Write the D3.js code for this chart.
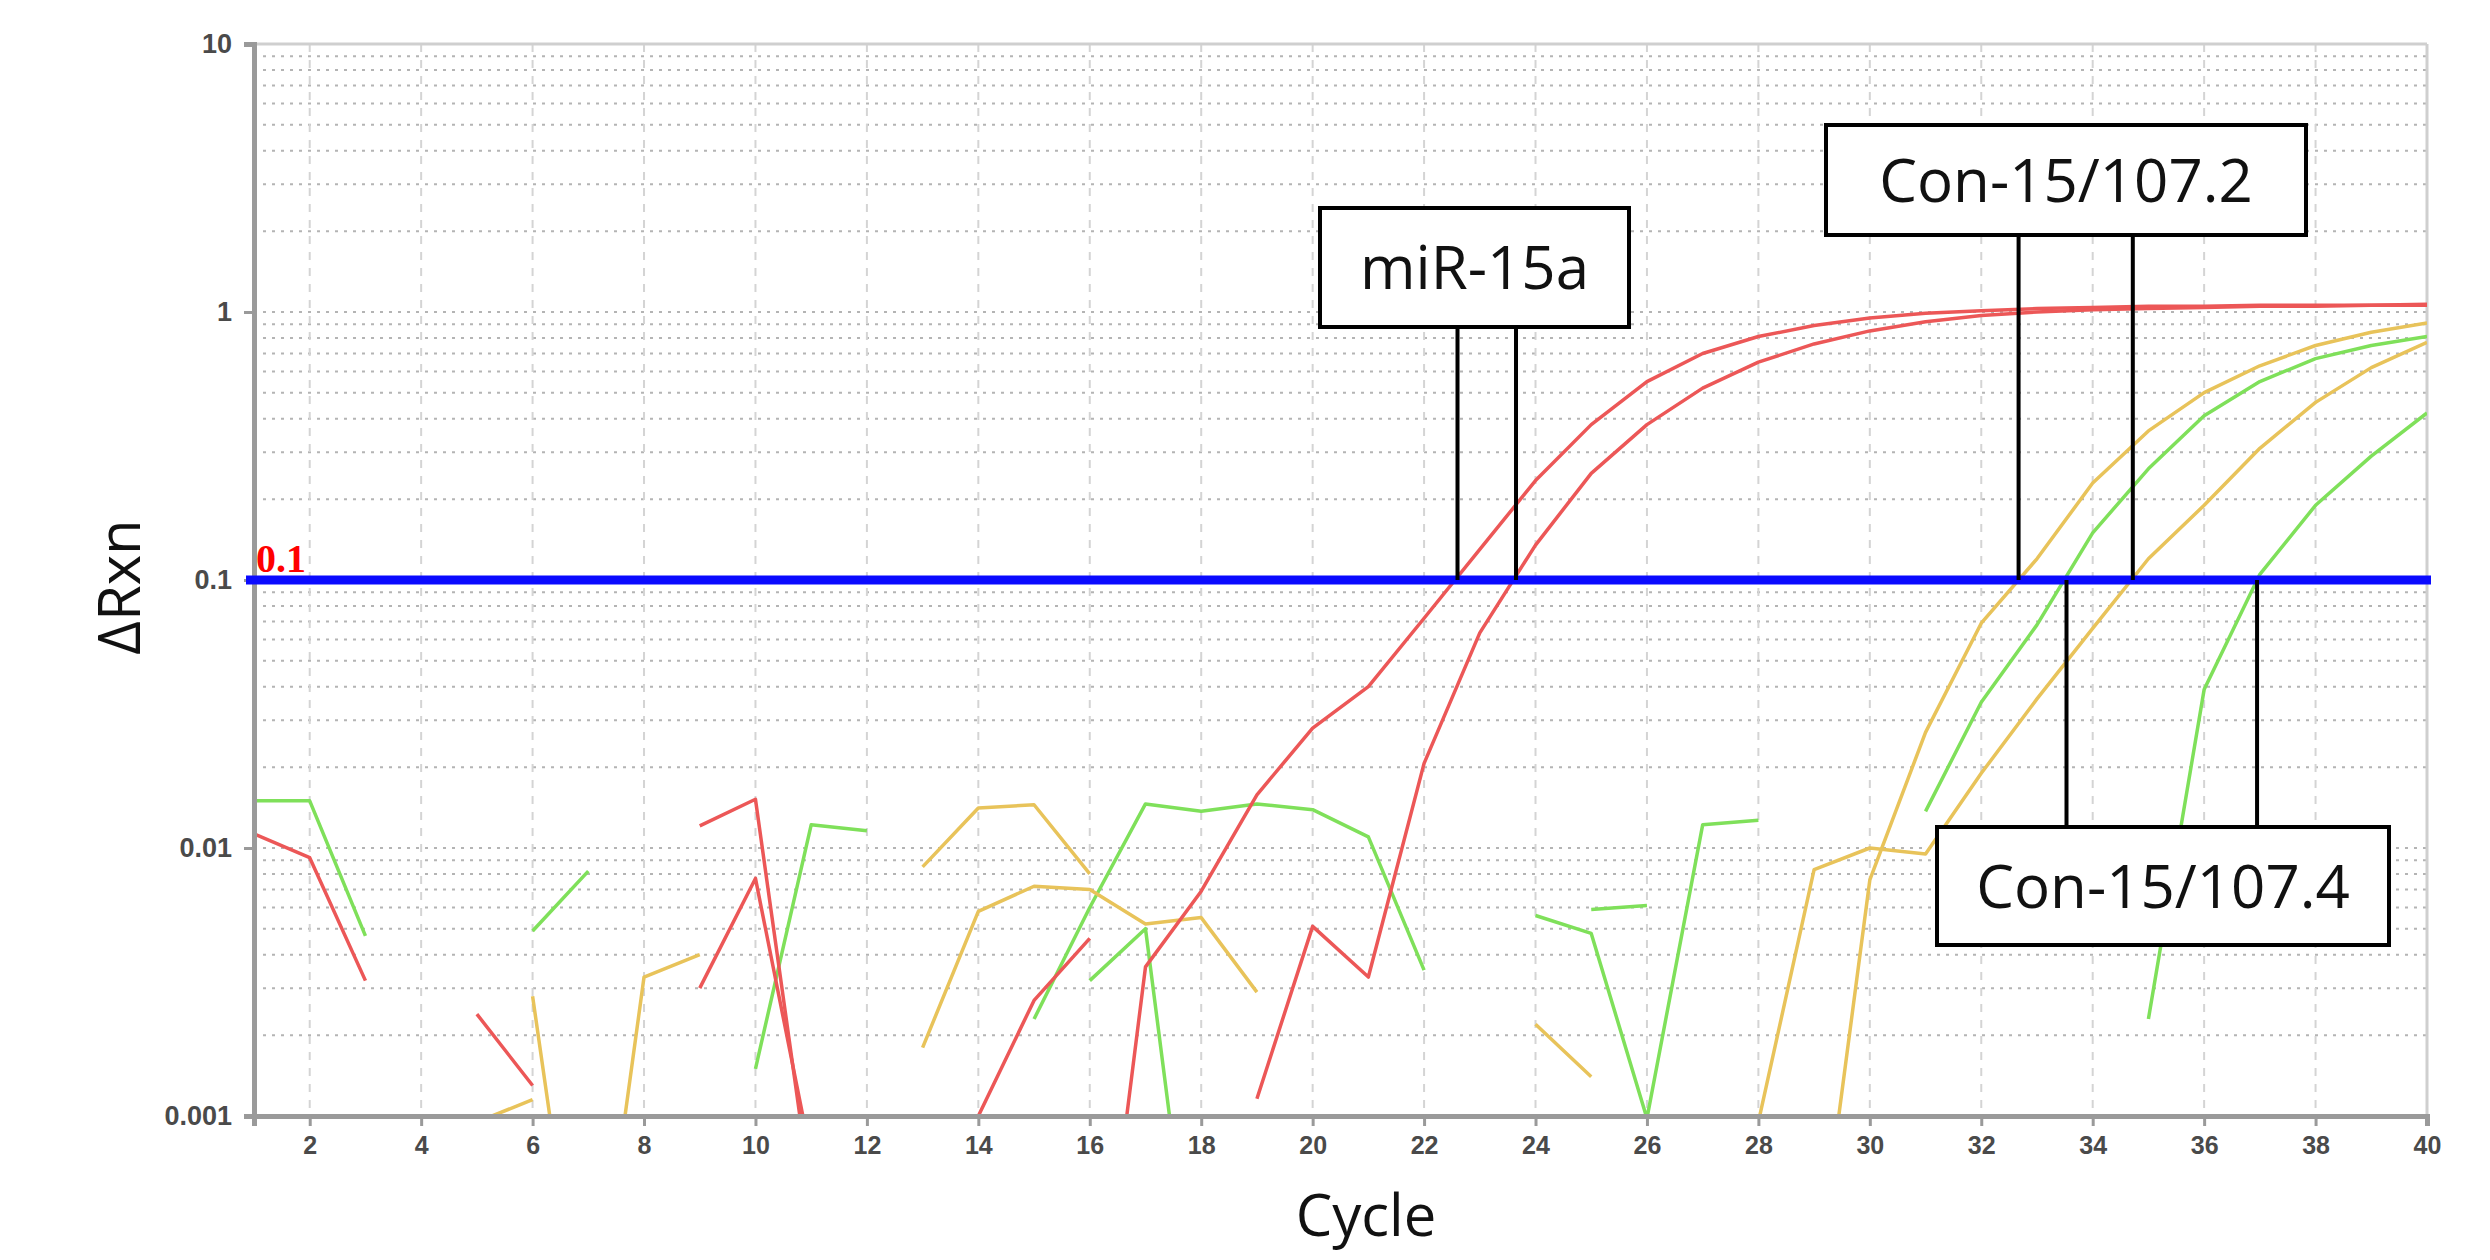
<!DOCTYPE html>
<html>
<head>
<meta charset="utf-8">
<script src="https://cdn.jsdelivr.net/npm/d3@7"></script>
<style>
  html, body { margin: 0; padding: 0; background: #ffffff; }
  svg { display: block; }
</style>
</head>
<body>
<svg id="chart" width="2490" height="1260"></svg>
<script>
// ---------------- DATA ----------------
const cycles = d3.range(1, 41);                 // cycle numbers 1..40
const xTickValues = d3.range(2, 41, 2);          // 2,4,...,40
const yTickValues = [0.001, 0.01, 0.1, 1, 10];
const yTickLabels = ["0.001", "0.01", "0.1", "1", "10"];
const threshold = 0.1;
const thresholdLabel = "0.1";
const xTitle = "Cycle";
const yTitle = "ΔRxn";
const N = null; // negative readings: not drawn on the log axis

// miR-15a replicates (red)
const red1 = [N, N, N, N, N, N, N, N, 0.003, 0.0077,
              0.0007, N, N, N, N, 0.00008, 0.0036, 0.0069, 0.0158, 0.028,
              0.040, 0.072, 0.13, 0.235, 0.38, 0.55, 0.70, 0.81, 0.89, 0.95,
              0.99, 1.01, 1.03, 1.04, 1.05, 1.05, 1.06, 1.06, 1.06, 1.07];
const red2 = [0.0113, 0.0092, 0.0032, N, 0.0024, 0.0013, N, N, 0.0121, 0.0152,
              0.0005, N, N, 0.001, 0.0027, 0.0046, N, N, 0.00116, 0.0051,
              0.0033, 0.0207, 0.0635, 0.135, 0.25, 0.38, 0.52, 0.65, 0.76, 0.85,
              0.92, 0.97, 1.0, 1.02, 1.03, 1.04, 1.05, 1.05, 1.06, 1.06];
// Con-15/107.2 replicates (yellow)
const yellow1 = [N, N, N, N, 0.00095, 0.00115, N, N, N, N,
                 N, N, 0.0085, 0.0141, 0.0145, 0.008, N, N, N, N,
                 N, N, N, 0.0022, 0.0014, N, N, N, 0.0002, 0.0076,
                 0.027, 0.069, 0.12, 0.23, 0.36, 0.50, 0.63, 0.75, 0.84, 0.91];
const yellow2 = [N, N, N, N, N, 0.0028, 0.0001, 0.0033, 0.004, N,
                 N, N, 0.0018, 0.0058, 0.0072, 0.0070, 0.0052, 0.0055, 0.0029, N,
                 N, N, N, N, N, N, N, 0.00095, 0.0083, 0.010,
                 0.0095, 0.019, 0.036, 0.066, 0.12, 0.19, 0.31, 0.46, 0.62, 0.77];
// Con-15/107.4 replicates (green)
const green1 = [0.015, 0.015, 0.0047, N, N, N, N, N, N, 0.0015,
                0.0122, 0.0116, N, N, N, 0.0032, 0.005, 0.00012, N, N,
                N, N, N, N, 0.0059, 0.0061, N, N, N, N,
                0.0137, 0.035, 0.068, 0.15, 0.26, 0.41, 0.55, 0.67, 0.75, 0.81];
const green2 = [N, N, N, N, N, 0.0049, 0.0082, N, N, N,
                N, N, N, N, 0.0023, 0.006, 0.0146, 0.0137, 0.0146, 0.0139,
                0.011, 0.0035, N, 0.0056, 0.0048, 0.00098, 0.0122, 0.0127, N, N,
                N, N, N, N, 0.0023, 0.039, 0.105, 0.19, 0.29, 0.42];

const seriesNames  = ["Con-15/107.4 A", "Con-15/107.4 B", "Con-15/107.2 A", "Con-15/107.2 B", "miR-15a A", "miR-15a B"];
const seriesValues = [green1, green2, yellow1, yellow2, red1, red2];
const seriesColors = ["#7fe05a", "#7fe05a", "#e8c35a", "#e8c35a", "#ec5757", "#ec5757"];

// Callout labels and the Ct values (cycles where curves cross the threshold)
const calloutTexts = ["miR-15a", "Con-15/107.2", "Con-15/107.4"];
const calloutCts   = [[22.6, 23.65], [32.67, 34.72], [33.53, 36.95]];

// ---------------- LAYOUT ----------------
const W = 2490, H = 1260;
const plot = { left: 254, right: 2427, top: 44, bottom: 1116 };
// callout box placement (pixels) – layout, not data
const calloutBoxes = [
  { x: 1320, y: 208, w: 309, h: 119, anchor: "bottom" },
  { x: 1826, y: 125, w: 480, h: 110, anchor: "bottom" },
  { x: 1937, y: 827, w: 452, h: 118, anchor: "top" }
];

const svg = d3.select("#chart");
svg.append("rect").attr("width", W).attr("height", H).attr("fill", "#fff");

const x = d3.scaleLinear().domain([1, 40]).range([plot.left, plot.right]);
const y = d3.scaleLog().domain([0.001, 10]).range([plot.bottom, plot.top]);

// ---------------- GRID ----------------
const grid = svg.append("g");
const minorVals = [];
[0.001, 0.01, 0.1, 1].forEach(d => { for (let k = 1; k <= 9; k++) minorVals.push(+(k * d).toPrecision(3)); });
grid.selectAll("line.h").data(minorVals.filter(v => v > 0.001)).join("line")
  .attr("x1", plot.left).attr("x2", plot.right)
  .attr("y1", d => y(d)).attr("y2", d => y(d))
  .attr("stroke", "#b4b4b4").attr("stroke-width", 2)
  .attr("stroke-dasharray", "3,6");
grid.selectAll("line.v").data(xTickValues.filter(v => v < 40)).join("line")
  .attr("x1", d => x(d)).attr("x2", d => x(d))
  .attr("y1", plot.top).attr("y2", plot.bottom)
  .attr("stroke", "#d4d4d4").attr("stroke-width", 2)
  .attr("stroke-dasharray", "8,8");
// top & right frame
grid.append("line").attr("x1", plot.left).attr("x2", plot.right)
  .attr("y1", plot.top).attr("y2", plot.top).attr("stroke", "#cfcfcf").attr("stroke-width", 3);
grid.append("line").attr("x1", plot.right).attr("x2", plot.right)
  .attr("y1", plot.top).attr("y2", plot.bottom).attr("stroke", "#cfcfcf").attr("stroke-width", 3);

// ---------------- CURVES ----------------
svg.append("defs").append("clipPath").attr("id", "clip")
  .append("rect").attr("x", plot.left).attr("y", plot.top)
  .attr("width", plot.right - plot.left).attr("height", plot.bottom - plot.top);

const line = d3.line()
  .defined(d => d.v != null && d.v > 0)
  .x(d => x(d.c)).y(d => y(d.v));

const curves = svg.append("g").attr("clip-path", "url(#clip)");
seriesValues.forEach((vals, i) => {
  curves.append("path")
    .datum(cycles.map((c, j) => ({ c, v: vals[j] })))
    .attr("fill", "none")
    .attr("stroke", seriesColors[i])
    .attr("stroke-width", 3.5)
    .attr("stroke-linejoin", "round")
    .attr("d", line)
    .append("title").text(seriesNames[i]);
});

// ---------------- AXES ----------------
const xAxis = d3.axisBottom(x).tickValues(xTickValues).tickSize(10).tickPadding(10).tickFormat(d3.format("d"));
const gx = svg.append("g").attr("transform", `translate(0,${plot.bottom})`).call(xAxis);
gx.select(".domain").attr("stroke", "#9a9a9a").attr("stroke-width", 5);
gx.selectAll(".tick line").attr("stroke", "#9a9a9a").attr("stroke-width", 3);
gx.selectAll(".tick text").attr("font-family", "'Liberation Sans', Arial, sans-serif")
  .attr("font-size", 25).attr("font-weight", "bold").attr("fill", "#4a4a4a");

const yAxis = d3.axisLeft(y).tickValues(yTickValues).tickSize(10).tickPadding(12)
  .tickFormat((d, i) => yTickLabels[i]);
const gy = svg.append("g").attr("transform", `translate(${plot.left},0)`).call(yAxis);
gy.select(".domain").attr("stroke", "#9a9a9a").attr("stroke-width", 5);
gy.selectAll(".tick line").attr("stroke", "#9a9a9a").attr("stroke-width", 3);
gy.selectAll(".tick text").attr("font-family", "'Liberation Sans', Arial, sans-serif")
  .attr("font-size", 27).attr("font-weight", "bold").attr("fill", "#4a4a4a");

// ---------------- THRESHOLD ----------------
svg.append("line")
  .attr("x1", plot.left - 8).attr("x2", plot.right + 4)
  .attr("y1", y(threshold)).attr("y2", y(threshold))
  .attr("stroke", "#0a0aff").attr("stroke-width", 9);
svg.append("text")
  .attr("x", plot.left + 2).attr("y", y(threshold) - 8)
  .attr("font-family", "'Liberation Serif', 'Times New Roman', serif")
  .attr("font-weight", "bold").attr("font-size", 40).attr("fill", "#ff0000")
  .text(thresholdLabel);

// ---------------- CALLOUTS ----------------
const callouts = svg.append("g");
calloutBoxes.forEach((b, i) => {
  const edgeY = b.anchor === "bottom" ? b.y + b.h : b.y;
  calloutCts[i].forEach(ct => {
    callouts.append("line")
      .attr("x1", x(ct)).attr("x2", x(ct))
      .attr("y1", edgeY).attr("y2", y(threshold))
      .attr("stroke", "#000").attr("stroke-width", 4);
  });
  callouts.append("rect")
    .attr("x", b.x).attr("y", b.y).attr("width", b.w).attr("height", b.h)
    .attr("fill", "#fff").attr("stroke", "#000").attr("stroke-width", 4);
  callouts.append("text")
    .attr("x", b.x + b.w / 2).attr("y", b.y + b.h / 2)
    .attr("dy", "0.36em")
    .attr("text-anchor", "middle")
    .attr("font-family", "'Open Sans', 'Noto Sans', sans-serif")
    .attr("font-size", 60).attr("fill", "#111")
    .text(calloutTexts[i]);
});

// ---------------- TITLES ----------------
svg.append("text")
  .attr("x", 1366).attr("y", 1236)
  .attr("text-anchor", "middle")
  .attr("font-family", "'Open Sans', 'Noto Sans', sans-serif")
  .attr("font-size", 58).attr("fill", "#111")
  .text(xTitle);
svg.append("text")
  .attr("transform", `translate(140, 587) rotate(-90)`)
  .attr("text-anchor", "middle")
  .attr("font-family", "'Open Sans', 'Noto Sans', sans-serif")
  .attr("font-size", 58).attr("fill", "#111")
  .text(yTitle);
</script>
</body>
</html>
